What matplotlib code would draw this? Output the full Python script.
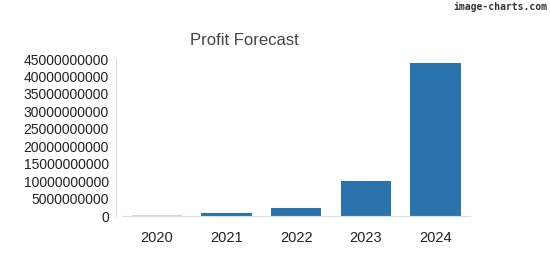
import matplotlib
matplotlib.use("Agg")
import matplotlib.pyplot as plt

years = ["2020", "2021", "2022", "2023", "2024"]
profit = [0.25e9, 0.75e9, 2.3e9, 10.1e9, 43.8e9]
bar_colors = ["#c2d8ee", "#2a73ad", "#2a73ad", "#2a73ad", "#2a73ad"]
yticks = list(range(0, 45000000001, 5000000000))

plt.rcParams['font.family'] = ['Liberation Sans', 'DejaVu Sans']

fig = plt.figure(figsize=(5.5, 2.75), dpi=100)
ax = fig.add_axes([0.222, 0.2145, 0.633, 0.5705])

ax.bar(range(len(years)), profit, width=0.72, color=bar_colors)
ax.set_xlim(-0.5, 4.5)
ax.set_ylim(0, 45e9)
ax.set_xticks(range(len(years)))
ax.set_xticklabels(years, fontsize=10.5)
ax.set_yticks(yticks)
ax.set_yticklabels([str(v) for v in yticks], fontsize=10.5)
ax.tick_params(length=0, colors="#222222")
ax.tick_params(axis="x", pad=11)
ax.tick_params(axis="y", pad=5)

for s in ["top", "right"]:
    ax.spines[s].set_visible(False)
ax.spines["left"].set_color("#dddddd")
ax.spines["bottom"].set_color("#dddddd")
ax.spines["left"].set_position(("outward", 4.5))

fig.text(0.445, 0.835, "Profit Forecast", fontsize=12, color="#444444", ha="center")
fig.text(0.995, 0.965, "image-charts.com", fontsize=7, color="#333333",
         ha="right", family="DejaVu Sans Mono", weight="bold")

fig.savefig("out.png", dpi=100)
